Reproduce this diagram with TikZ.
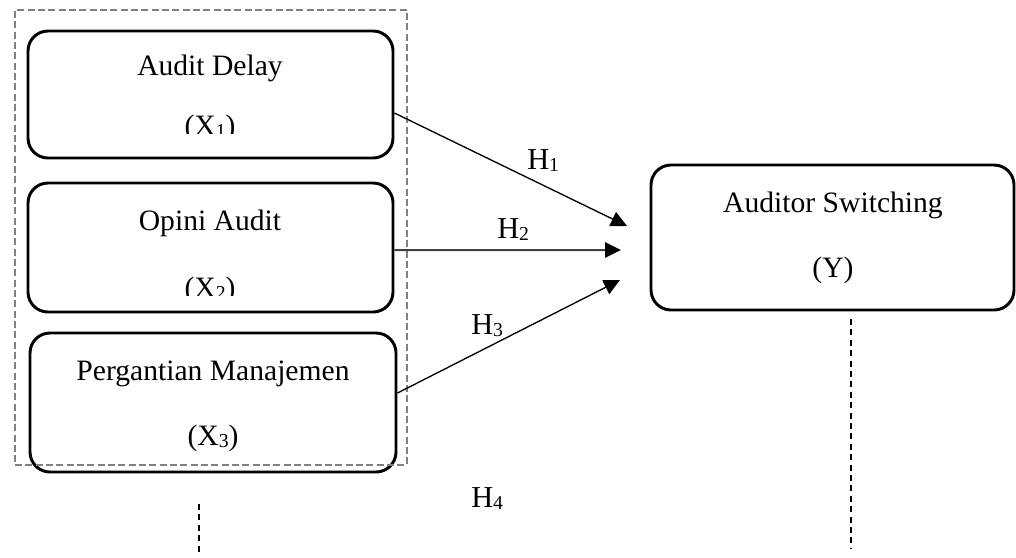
\documentclass[tikz,border=0pt]{standalone}
\usepackage{fontspec}
\setmainfont{Liberation Serif}
\usetikzlibrary{arrows.meta}
\newcommand{\sbs}[1]{\raisebox{-1.5pt}{\fontsize{14.8}{16}\selectfont #1}}
\begin{document}
\begin{tikzpicture}[x=0.75pt,y=-0.75pt,
  varbox/.style={draw=black, line width=2.2pt, rounded corners=15pt, inner sep=0pt},
  txt/.style={anchor=base, inner sep=0pt, font=\fontsize{22.2}{26}\selectfont},
  hlab/.style={anchor=base west, inner sep=0pt, font=\fontsize{22.8}{26}\selectfont},
  arr/.style={-{Triangle[length=12pt,width=11.5pt,color=black]}, line width=1pt},
  framebox/.style={draw=black!50, line width=1.7pt, dash pattern=on 5.25pt off 2.5pt},
  vdash/.style={line width=2.2pt, dash pattern=on 4.5pt off 3.3pt}]
\useasboundingbox (0,0) rectangle (1016,557);

% boxes
\node[varbox, minimum width=273.75pt, minimum height=95.25pt] (x1) at (210.5,94.5) {};
\node[varbox, minimum width=273.75pt, minimum height=96.75pt] (x2) at (210.5,247.5) {};
\node[varbox, minimum width=274.5pt, minimum height=104.25pt] (x3) at (213,402.5) {};
\node[varbox, minimum width=272.25pt, minimum height=108.75pt] (y) at (832.5,237.5) {};

% texts
\node[txt] (x1a) at (210,75) {Audit Delay};
\begin{scope}
  \clip (28,31) rectangle (393,133);
  \node[txt] (x1b) at (210,135) {(X\sbs{1})};
\end{scope}
\node[txt] (x2a) at (210,230) {Opini Audit};
\begin{scope}
  \clip (28,183) rectangle (393,295);
  \node[txt] (x2b) at (210,297) {(X\sbs{2})};
\end{scope}
\node[txt] (x3a) at (213,380) {Pergantian Manajemen};
\node[txt] (x3b) at (213,445) {(X\sbs{3})};
\node[txt] (ya) at (833,212) {Auditor Switching};
\node[txt] (yb) at (833,277) {(Y)};

% dashed frame
\node[framebox, minimum width=294pt, minimum height=341.25pt, inner sep=0pt] (grp) at (211,237.5) {};

% arrows
\coordinate (t1) at (627,226);
\coordinate (t2) at (621,250);
\coordinate (t3) at (620,280);
\draw[arr] ([yshift=-13.9pt]x1.east) -- (t1);
\draw[arr, line width=1.5pt, draw=black!75] ([yshift=-1.9pt]x2.east) -- (t2);
\draw[arr] ([yshift=7.1pt]x3.east) -- (t3);

% hypothesis labels
\node[hlab] (h1) at (527,169) {H\sbs{1}};
\node[hlab] (h2) at (497,238) {H\sbs{2}};
\node[hlab] (h3) at (471,334) {H\sbs{3}};
\node[hlab] (h4) at (471,507) {H\sbs{4}};

% vertical dashed lines
\coordinate (d1a) at (199,504);
\coordinate (d1b) at (199,552);
\coordinate (d2a) at (851,319);
\coordinate (d2b) at (851,548);
\draw[vdash] (d1a) -- (d1b);
\draw[vdash] (d2a) -- (d2b);
\end{tikzpicture}
\end{document}
